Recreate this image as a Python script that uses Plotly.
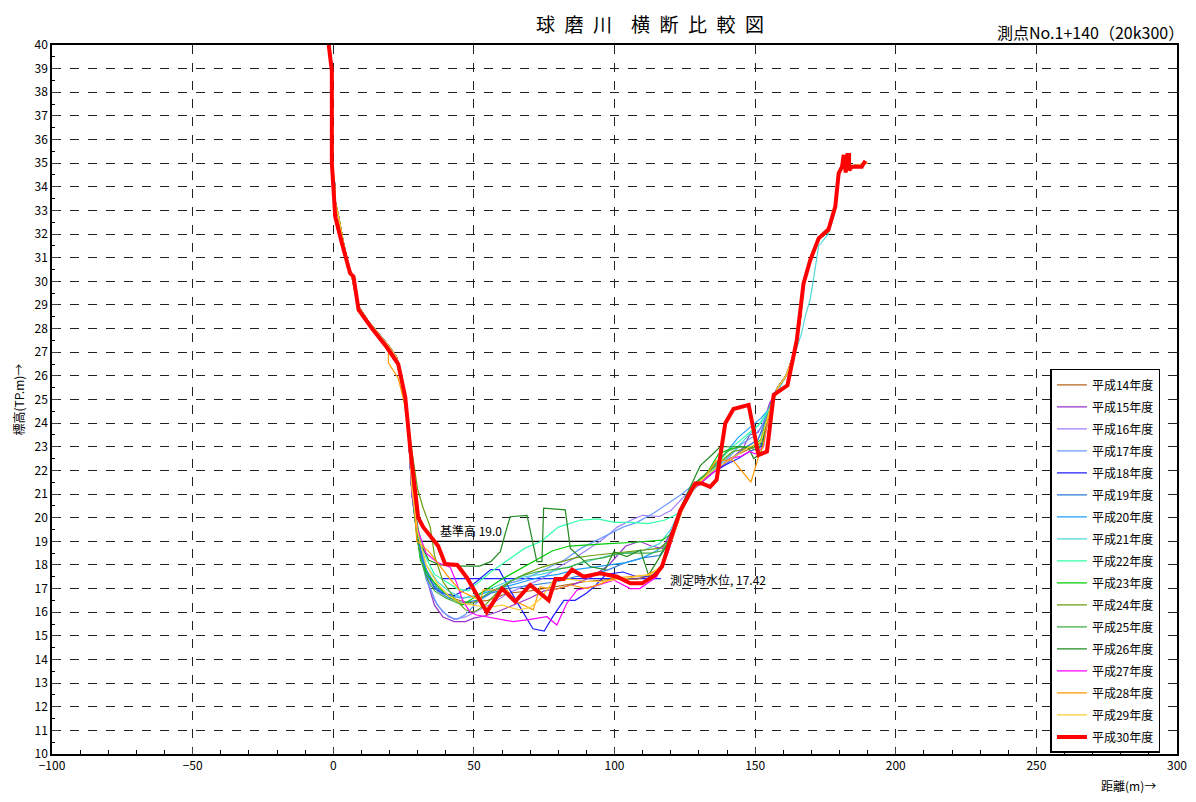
import plotly.graph_objects as go

# ---------------- data ----------------
YEARS = ["平成14年度", "平成15年度", "平成16年度", "平成17年度", "平成18年度", "平成19年度",
         "平成20年度", "平成21年度", "平成22年度", "平成23年度", "平成24年度", "平成25年度",
         "平成26年度", "平成27年度", "平成28年度", "平成29年度", "平成30年度"]
COLORS = ["#B5651D", "#9932CC", "#9F7FFF", "#6A9CFF", "#1F1FFF", "#2A7AD8",
          "#1E9FFF", "#4ED8D8", "#33FFAA", "#00CC00", "#6B9E10", "#3DAE3D",
          "#228B22", "#FF00FF", "#FF9900", "#FFCC33", "#FF0000"]

# shared left bank (older surveys)
LB_X = [0.3, 0.8, 1.8, 3.5, 5.5, 6.5, 7.8, 9.2, 12.5, 16.0, 19.5, 22.5, 24.2, 25.6, 26.5]
LB_Y = [34.5, 33.3, 32.8, 31.7, 30.6, 30.3, 29.5, 28.9, 28.3, 27.8, 27.3, 26.8, 26.0, 25.0, 24.0]
# shared upper right bank
RB_X = [158.0, 161.0, 164.0, 166.0, 167.2, 169.5, 172.6, 176.1, 178.3, 179.7, 181.0, 185.0, 188.0]
RB_Y = [25.5, 26.0, 27.0, 28.3, 29.8, 30.9, 31.8, 32.1, 33.0, 34.5, 34.9, 34.9, 34.95]
RB21_X = [158.0, 161.0, 164.0, 166.5, 168.0, 169.5, 170.5, 172.6, 176.0, 178.3, 179.7, 181.0, 185.0]
RB21_Y = [25.3, 26.0, 26.9, 27.8, 28.6, 29.2, 29.9, 31.5, 32.0, 32.9, 34.4, 34.9, 34.9]

# channel bed + lower right bank per survey
H14_X = [28, 30, 33, 37, 42, 48, 55, 62, 70, 80, 90, 100, 108, 114, 118, 122, 126, 131, 136, 141, 146, 150, 153, 155]
H14_Y = [21.0, 19.2, 17.8, 17.0, 16.6, 16.4, 16.5, 16.8, 16.9, 17.1, 17.3, 17.4, 17.4, 17.6, 18.2, 19.6, 21.0, 21.6, 22.0, 22.5, 22.8, 23.0, 23.3, 24.5]
H15_X = [28, 30, 33, 36, 39, 43, 47, 50, 54, 58, 62, 66, 70, 75, 80, 86, 92, 98, 104, 109, 113, 117, 121, 126, 131, 136, 141, 146, 148, 151, 153, 155]
H15_Y = [21.0, 19.5, 17.5, 16.3, 15.8, 15.6, 15.6, 15.75, 15.85, 16.0, 16.2, 16.4, 16.6, 16.9, 17.0, 17.2, 17.5, 18.0, 18.8, 19.0, 18.8, 18.7, 19.6, 21.0, 21.5, 22.0, 22.4, 23.0, 23.5, 23.6, 24.0, 24.8]
H16_X = [28, 30, 33, 36, 39, 43, 47, 52, 57, 62, 68, 74, 80, 86, 91, 96, 101, 106, 110, 116, 120, 124, 128, 133, 138, 143, 147, 151, 154, 156]
H16_Y = [21.2, 19.3, 17.6, 16.5, 16.0, 15.7, 15.8, 16.1, 16.4, 16.8, 17.1, 17.4, 17.9, 18.3, 18.7, 19.1, 19.6, 19.9, 20.1, 20.05, 20.3, 20.8, 21.3, 21.8, 22.1, 22.6, 23.0, 23.3, 24.0, 25.0]
H17_X = [28, 30, 33, 37, 41, 44, 47, 51, 56, 62, 68, 75, 82, 88, 93, 98, 103, 108, 114, 119, 124, 127, 131, 136, 141, 145, 149, 152, 155]
H17_Y = [21.0, 19.0, 17.4, 16.3, 15.8, 15.7, 15.9, 16.4, 16.8, 17.2, 17.4, 17.8, 18.2, 18.7, 19.0, 19.3, 19.6, 19.8, 20.2, 20.6, 21.0, 21.3, 21.7, 22.1, 22.6, 23.1, 23.4, 23.8, 24.6]
H18_X = [28, 30, 33, 36, 39, 43, 48, 52, 56, 59, 63, 67, 71, 75, 78, 82, 86, 90, 93, 97, 103, 108, 113, 117, 121, 125, 129, 134, 139, 144, 148, 152, 154, 156]
H18_Y = [21.0, 19.2, 17.8, 17.0, 16.8, 16.7, 17.0, 17.4, 17.8, 17.8, 16.9, 16.1, 15.3, 15.2, 15.8, 16.5, 16.5, 16.8, 17.1, 17.6, 17.7, 17.5, 17.5, 18.0, 19.4, 20.6, 21.4, 21.9, 22.2, 22.5, 22.8, 23.0, 24.0, 25.0]
H19_X = [28, 30, 33, 37, 41, 46, 51, 56, 62, 68, 74, 80, 86, 92, 98, 104, 110, 116, 120, 124, 128, 133, 138, 143, 147, 151, 154, 156]
H19_Y = [21.0, 19.0, 17.6, 16.9, 16.6, 16.4, 16.5, 16.8, 17.0, 17.1, 17.2, 17.3, 17.5, 17.6, 17.8, 18.1, 18.3, 18.4, 19.0, 20.3, 21.2, 21.7, 22.2, 22.6, 23.0, 23.3, 24.2, 25.0]
H20_X = [28, 30, 33, 37, 41, 46, 51, 56, 62, 68, 74, 80, 86, 92, 98, 104, 110, 115, 119, 123, 126, 130, 135, 140, 144, 148, 152, 155, 157]
H20_Y = [21.0, 19.3, 17.8, 17.0, 16.7, 16.6, 16.7, 16.9, 17.1, 17.3, 17.5, 17.6, 17.8, 17.9, 18.0, 18.1, 18.3, 18.6, 19.0, 20.1, 21.0, 21.6, 22.1, 22.8, 23.4, 23.8, 24.2, 24.6, 25.1]
H21_X = [28, 30, 33, 37, 41, 46, 51, 56, 62, 68, 74, 80, 86, 92, 98, 104, 110, 116, 120, 124, 128, 133, 138, 143, 147, 151, 154, 157]
H21_Y = [21.1, 19.4, 18.0, 17.3, 16.9, 16.6, 16.7, 17.0, 17.3, 17.5, 17.6, 17.8, 18.0, 18.2, 18.4, 18.5, 18.6, 18.9, 19.5, 20.5, 21.3, 21.8, 22.3, 22.9, 23.4, 23.9, 24.4, 25.1]
H22_X = [28, 30, 33, 36, 40, 44, 48, 52, 56, 62, 68, 74, 80, 88, 94, 100, 106, 112, 118, 123, 127, 131, 136, 141, 145, 149, 152, 155, 157]
H22_Y = [21.2, 19.6, 18.3, 17.6, 17.3, 17.0, 16.9, 17.3, 17.7, 18.2, 18.7, 19.0, 19.6, 19.9, 19.95, 19.8, 19.8, 19.75, 19.9, 20.2, 21.0, 21.6, 22.2, 22.9, 23.3, 23.7, 24.0, 24.6, 25.1]
H23_X = [28, 29.5, 31, 34, 38, 42, 46, 50, 55, 60, 66, 72, 78, 84, 90, 98, 106, 112, 117, 120, 124, 128, 133, 137, 141, 145, 149, 152, 155]
H23_Y = [21.5, 19.5, 18.2, 17.5, 17.0, 16.6, 16.3, 16.6, 17.0, 17.4, 17.8, 18.2, 18.6, 18.8, 18.85, 18.9, 18.95, 19.0, 19.05, 19.3, 20.4, 21.4, 21.9, 22.7, 22.9, 23.0, 23.0, 23.3, 24.5]
H24_X = [28, 30, 32, 34.5, 36, 39, 43, 47, 50, 54, 58, 63, 68, 74, 80, 86, 92, 100, 108, 116, 120, 124, 128, 133, 138, 142, 146, 150, 153, 155]
H24_Y = [22.8, 21.2, 20.4, 19.6, 18.4, 17.3, 16.6, 16.1, 16.0, 16.3, 16.8, 17.3, 17.6, 17.9, 18.1, 18.3, 18.4, 18.5, 18.6, 18.7, 19.1, 20.4, 21.3, 21.9, 22.4, 22.8, 22.9, 23.0, 23.3, 24.4]
H25_X = [28, 29.5, 31, 33, 36, 40, 45, 50, 55, 60, 66, 72, 78, 84, 90, 96, 102, 108, 113, 117, 120, 124, 128, 132, 136, 140, 144, 148, 151, 154, 156]
H25_Y = [21.0, 19.5, 18.3, 17.5, 16.9, 16.6, 16.35, 16.4, 16.8, 17.1, 17.5, 17.7, 17.8, 17.9, 18.2, 18.3, 18.5, 18.5, 18.5, 18.6, 19.2, 20.5, 21.4, 21.8, 22.3, 22.8, 23.0, 23.0, 22.8, 23.9, 25.0]
H26_X = [28, 29.5, 31, 34, 38, 45, 52, 56, 59.4, 61.2, 62.9, 68.9, 72.4, 74.2, 74.8, 82.5, 84.3, 88, 91.4, 96.7, 99.7, 104.4, 109.2, 112.1, 116, 119, 123, 127, 130.5, 134.6, 137.6, 141, 145, 147.7, 149.5, 152, 155]
H26_Y = [22.3, 20.0, 18.9, 18.2, 18.0, 17.95, 17.95, 18.14, 18.56, 19.35, 20.04, 20.1, 18.14, 18.14, 20.4, 20.33, 18.7, 18.3, 17.93, 17.8, 18.56, 18.35, 18.63, 17.57, 18.3, 18.9, 20.3, 21.3, 22.2, 22.65, 23.0, 23.0, 23.0, 22.95, 22.5, 22.7, 24.5]
H27_X = [28, 30, 33, 37, 41.6, 44, 46, 48.7, 51, 55, 60, 64, 70, 76, 79.5, 83, 86.7, 93, 99.7, 105.6, 109, 115, 119, 123, 127, 132, 137, 141, 145, 148, 150, 153, 155]
H27_Y = [21.0, 19.5, 18.5, 18.1, 17.9, 17.2, 16.5, 16.0, 15.88, 15.8, 15.7, 15.6, 15.7, 15.81, 15.46, 16.37, 16.94, 17.1, 17.36, 17.0, 17.0, 17.5, 18.5, 20.0, 21.1, 21.6, 22.1, 22.5, 22.6, 22.8, 22.7, 23.0, 24.5]
H28_X = [19.6, 19.6, 23.1, 25.0, 26.5, 28, 29.7, 31, 34.5, 40.4, 45.2, 52.3, 53.3, 61.8, 64.1, 71.1, 73.6, 78.3, 84.3, 90.2, 95, 99.6, 105, 111.5, 116.3, 120, 124, 128, 132, 136, 142, 148.5, 151, 153, 155]
H28_Y = [27.0, 26.55, 25.9, 25.0, 24.0, 22.0, 19.0, 18.9, 18.5, 17.57, 16.9, 16.5, 16.94, 16.94, 16.5, 16.1, 17.08, 16.94, 17.15, 17.0, 17.2, 17.44, 17.5, 17.57, 17.87, 18.9, 20.3, 21.2, 21.7, 22.4, 22.45, 21.5, 22.5, 23.1, 24.4]
H29_X = [28, 30, 33, 37, 41, 45, 50, 55, 60, 66, 70, 74, 78, 84, 90, 96, 102, 108, 113, 117, 121, 125, 129, 134, 139, 144, 148, 152, 155]
H29_Y = [21.2, 19.4, 18.0, 17.2, 16.7, 16.4, 16.3, 16.2, 16.3, 16.1, 16.2, 16.6, 17.3, 17.4, 17.3, 17.3, 17.4, 17.5, 17.6, 18.0, 19.3, 20.6, 21.4, 21.9, 22.3, 22.7, 23.0, 23.2, 24.5]
TAIL28_X = [190.0]
TAIL28_Y = [35.0]

H30_X = [-1.7, -0.5, -0.5, 0.1, 0.7, 3.1, 6.0, 7.2, 9.0, 13.8, 19.1, 23.1, 25.6, 27.4, 29.2, 30.2, 32.0, 37.3,
         39.8, 44.1, 47.6, 50.5, 54.6, 60.0, 64.7, 70.0, 76.6, 79.0, 81.9, 84.9, 89.0, 94.9, 100.9, 105.6,
         109.8, 114.5, 116.9, 119.8, 123.4, 128.7, 131.1, 134.0, 136.3, 139.4, 142.3, 147.7, 151.2, 154.2,
         156.6, 161.5, 164.8, 167.2, 169.6, 172.6, 176.1, 178.5, 179.7, 180.9, 181.5, 182.2, 182.8, 183.4,
         183.4, 184.4, 187.9, 189.2]
H30_Y = [40.1, 38.9, 35.0, 34.0, 32.74, 31.6, 30.34, 30.2, 28.8, 28.0, 27.2, 26.5, 25.1, 22.9, 21.0, 20.0, 19.6, 18.8,
         18.04, 18.0, 17.45, 16.85, 16.0, 17.0, 16.45, 17.15, 16.5, 17.4, 17.4, 17.8, 17.5, 17.65, 17.5, 17.22,
         17.22, 17.57, 17.93, 19.05, 20.3, 21.45, 21.45, 21.3, 21.6, 24.0, 24.6, 24.77, 22.65, 22.8,
         25.2, 25.6, 27.5, 29.9, 30.9, 31.82, 32.2, 33.16, 34.57, 34.85, 35.35, 34.6, 35.35, 35.35,
         34.7, 34.85, 34.85, 35.1]

BED_X = [H14_X, H15_X, H16_X, H17_X, H18_X, H19_X, H20_X, H21_X, H22_X, H23_X, H24_X, H25_X, H26_X, H27_X, H28_X, H29_X]
BED_Y = [H14_Y, H15_Y, H16_Y, H17_Y, H18_Y, H19_Y, H20_Y, H21_Y, H22_Y, H23_Y, H24_Y, H25_Y, H26_Y, H27_Y, H28_Y, H29_Y]

BASE_LEVEL = 19.0
BASE_X = [30.5, 94.0]
WATER_LEVEL = 17.42
WATER_X = [38.5, 116.5]

X_TICKS = [-100, -50, 0, 50, 100, 150, 200, 250, 300]
Y_TICKS = list(range(10, 41))

FONT = "Noto Sans CJK JP"

fig = go.Figure()

# reference lines
fig.add_trace(go.Scatter(x=BASE_X, y=[BASE_LEVEL, BASE_LEVEL], mode="lines",
                         line=dict(color="black", width=1.3), showlegend=False, hoverinfo="skip"))
fig.add_trace(go.Scatter(x=WATER_X, y=[WATER_LEVEL, WATER_LEVEL], mode="lines",
                         line=dict(color="#1F1FFF", width=1.3), showlegend=False, hoverinfo="skip"))

for i in range(16):
    xs, ys = BED_X[i], BED_Y[i]
    if i == 14:  # H28 has its own upper left bank portion
        lx = [v for v in LB_X if v < 19.0]
        ly = LB_Y[:len(lx)]
    else:
        lx, ly = LB_X, LB_Y
    if i == 7:
        rx, ry = RB21_X, RB21_Y
    else:
        rx, ry = RB_X, RB_Y
    X = lx + xs + rx
    Y = ly + ys + ry
    if i == 14:
        X = X + TAIL28_X
        Y = Y + TAIL28_Y
    fig.add_trace(go.Scatter(x=X, y=Y, mode="lines", name=YEARS[i], legendgroup=YEARS[i],
                             line=dict(color=COLORS[i], width=1.2)))

fig.add_trace(go.Scatter(x=H30_X, y=H30_Y, mode="lines", name=YEARS[16], legendgroup=YEARS[16],
                         line=dict(color=COLORS[16], width=4)))

fig.add_annotation(x=37.3, y=BASE_LEVEL + 0.45, text="基準高 19.0", showarrow=False,
                   xanchor="left", yanchor="middle", font=dict(family=FONT, size=12, color="black"))
fig.add_annotation(x=119.0, y=WATER_LEVEL - 0.05, text="測定時水位, 17.42", showarrow=False,
                   xanchor="left", yanchor="middle", font=dict(family=FONT, size=12, color="black"))

SP = "\u2002"
TITLE = SP.join(["球", "磨", "川"]) + SP + "\u2002" + SP.join(["横", "断", "比", "較", "図"])
fig.add_annotation(x=0.5316, y=1.031, xref="paper", yref="paper", text=TITLE,
                   showarrow=False, xanchor="center", yanchor="middle",
                   font=dict(family=FONT, size=19, color="black"))
fig.add_annotation(x=1.008, y=1.018, xref="paper", yref="paper", text="測点No.1+140（20k300）",
                   showarrow=False, xanchor="right", yanchor="middle",
                   font=dict(family=FONT, size=16, color="black"))
fig.add_annotation(x=0.983, y=-0.045, xref="paper", yref="paper", text="距離(m)→",
                   showarrow=False, xanchor="right", yanchor="middle",
                   font=dict(family=FONT, size=12, color="black"))
fig.add_annotation(x=-0.0302, y=0.5, xref="paper", yref="paper", text="標高(TP.m)→",
                   showarrow=False, xanchor="center", yanchor="middle", textangle=-90,
                   font=dict(family=FONT, size=12, color="black"))

fig.update_layout(
    width=1180, height=786,
    margin=dict(l=44, r=11, t=37, b=40, autoexpand=False),
    paper_bgcolor="white", plot_bgcolor="white",
    font=dict(family=FONT, size=12, color="black"),
    showlegend=True,
    legend=dict(x=0.8875, y=0.0015, xanchor="left", yanchor="bottom",
                bgcolor="white", bordercolor="black", borderwidth=1.5,
                font=dict(family=FONT, size=12), tracegroupgap=3,
                itemwidth=30),
)
fig.update_xaxes(range=[-100, 300], tickvals=X_TICKS, ticks="inside", ticklen=6,
                 showline=True, mirror=True, linecolor="black", linewidth=1.5,
                 showgrid=True, gridcolor="#222", griddash="dash", gridwidth=1,
                 zeroline=False, tickfont=dict(size=12), automargin=False,
                 minor=dict(dtick=10, ticks="inside", ticklen=4, showgrid=False, tickcolor="black"))
fig.update_yaxes(range=[10, 40], tickvals=Y_TICKS, ticks="inside", ticklen=6,
                 showline=True, mirror=True, linecolor="black", linewidth=1.5,
                 showgrid=True, gridcolor="#222", griddash="dash", gridwidth=1,
                 zeroline=False, tickfont=dict(size=12), automargin=False,
                 minor=dict(dtick=0.5, ticks="inside", ticklen=3, showgrid=False, tickcolor="black"))

fig.write_html("out.html")
